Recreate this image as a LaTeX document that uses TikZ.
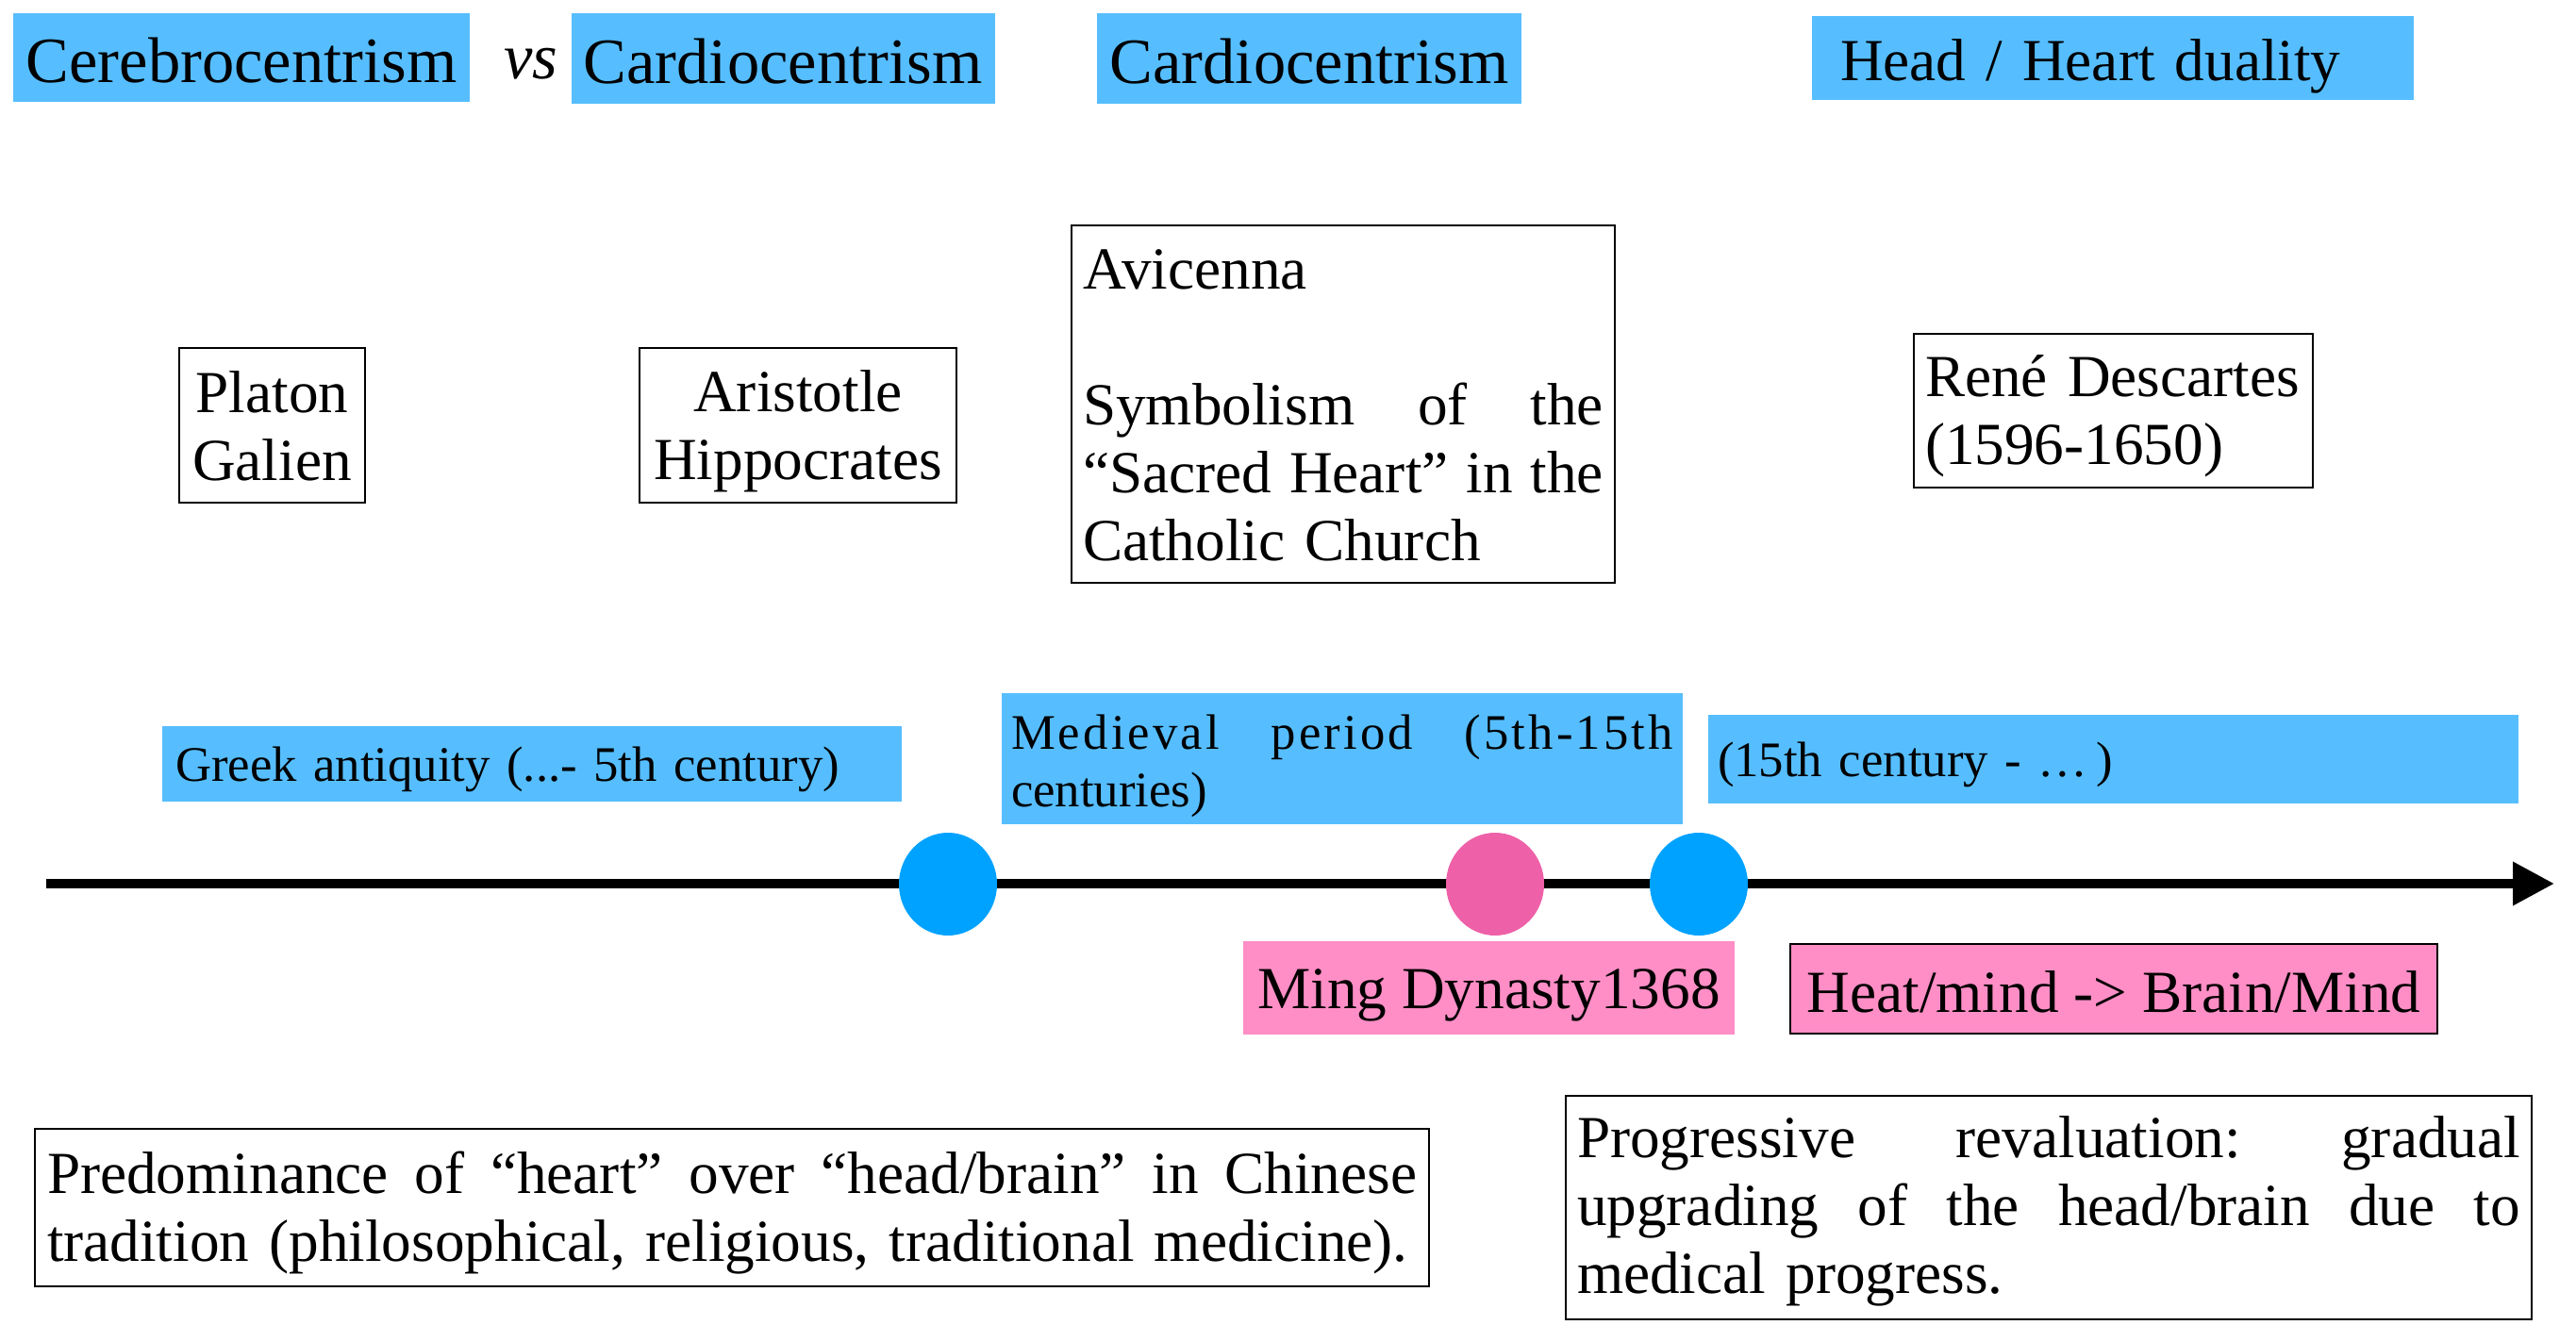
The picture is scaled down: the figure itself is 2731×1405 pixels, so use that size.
\documentclass[tikz,border=0pt]{standalone}
\usepackage{fontspec}
\setmainfont{Liberation Serif}
\usetikzlibrary{arrows.meta,shapes.geometric}
\definecolor{boxblue}{HTML}{56BEFF}
\definecolor{dotblue}{HTML}{00A2FF}
\definecolor{dotpink}{HTML}{EE61A8}
\definecolor{boxpink}{HTML}{FF8EC6}
\newcommand\jline[2]{\leavevmode\hbox to #1{\frenchspacing\spaceskip=0.25em plus 1fil\relax\xspaceskip=\spaceskip #2}}
\begin{document}
\begin{tikzpicture}[x=0.1mm,y=-0.1mm,
  bluebox/.style={fill=boxblue, inner sep=0pt},
  pinkbox/.style={fill=boxpink, inner sep=0pt},
  framebox/.style={draw, line width=0.8pt, inner sep=0pt},
  big/.style={inner sep=0pt, font=\fontsize{19.5}{22}\selectfont},
  txt/.style={inner sep=0pt, font=\fontsize{18}{20.5}\selectfont},
  small/.style={inner sep=0pt, font=\fontsize{15}{17.3}\selectfont},
  dot/.style={ellipse, inner sep=0pt, minimum width=10.4mm, minimum height=10.9mm}
]
\useasboundingbox (0,0) rectangle (2731,1405);

% headings
\node[bluebox, minimum width=48.4mm, minimum height=9.4mm] (cerebro) at (256,61) {};
\node[big, yshift=-0.35mm] (cerebrotext) at (cerebro) {Cerebrocentrism};
\node[big, font=\fontsize{19.5}{22}\selectfont\itshape] (vs) at (563,68) {vs};
\node[bluebox, minimum width=44.9mm, minimum height=9.6mm] (cardioA) at (830,62) {};
\node[big, yshift=-0.35mm] (cardioAtext) at (cardioA) {Cardiocentrism};
\node[bluebox, minimum width=45mm, minimum height=9.6mm] (cardioB) at (1388,62) {};
\node[big, yshift=-0.35mm] (cardioBtext) at (cardioB) {Cardiocentrism};
\node[bluebox, minimum width=63.8mm, minimum height=8.9mm] (duality) at (2240,61.5) {};
\node[txt, text width=57.8mm, align=left, yshift=-0.85mm] (dualitytext) at (duality) {Head / Heart duality};

% persons
\node[framebox, minimum width=19.7mm, minimum height=16.4mm] (platon) at (288.5,451) {};
\node[txt, align=center, yshift=-0.1mm] (platontext) at (platon) {Platon\\Galien};
\node[framebox, minimum width=33.6mm, minimum height=16.4mm] (aristotle) at (846,451) {};
\node[txt, align=center, yshift=-0.6mm] (aristotletext) at (aristotle) {Aristotle\\Hippocrates};
\node[framebox, minimum width=57.6mm, minimum height=37.9mm] (avicenna) at (1424,428.5) {};
\node[txt, text width=55.2mm, align=left, yshift=-0.1mm] (avicennatext) at (avicenna)
  {Avicenna\\[20.5pt]\jline{55.2mm}{Symbolism of the}\\\jline{55.2mm}{“Sacred Heart” in the}\\Catholic Church};
\node[framebox, minimum width=42.3mm, minimum height=16.3mm] (descartes) at (2240.5,435.5) {};
\node[txt, text width=39.9mm, align=left, yshift=-0.6mm] (descartestext) at (descartes) {René Descartes\\(1596-1650)};

% periods
\node[bluebox, minimum width=78.4mm, minimum height=8mm] (greek) at (564,810) {};
\node[small, text width=75.6mm, align=left, yshift=-0.55mm] (greektext) at (greek) {Greek antiquity (...- 5th century)};
\node[bluebox, minimum width=72.2mm, minimum height=13.9mm] (medieval) at (1423,804.5) {};
\node[small, text width=70.2mm, align=left, yshift=-0.8mm] (medievaltext) at (medieval)
  {\jline{70.2mm}{\addfontfeature{LetterSpace=6}Medieval period (5th-15th}\\centuries)};
\node[bluebox, minimum width=85.9mm, minimum height=9.4mm] (modern) at (2240.5,805) {};
\node[small, text width=83.9mm, align=left, yshift=-0.6mm] (moderntext) at (modern) {(15th century - …\,)};

% timeline
\coordinate (tstart) at (49,937);
\coordinate (tend) at (2708,937);
\draw[line width=1mm, -{Triangle[length=4.4mm,width=4.4mm]}] (tstart) -- (tend);
\node[dot, fill=dotblue] (dotA) at (1005,937.5) {};
\node[dot, fill=dotpink] (dotB) at (1585,937.5) {};
\node[dot, fill=dotblue] (dotC) at (1801,937.5) {};

% events
\node[pinkbox, minimum width=52.1mm, minimum height=9.9mm] (ming) at (1578.5,1047.5) {};
\node[txt, yshift=-0.8mm] (mingtext) at (ming) {Ming Dynasty1368};
\node[pinkbox, draw, line width=0.8pt, minimum width=68.6mm, minimum height=9.5mm] (heat) at (2241,1048.5) {};
\node[txt, yshift=-0.3mm] (heattext) at (heat) {Heat/mind -> Brain/Mind};

% notes
\node[framebox, minimum width=147.8mm, minimum height=16.7mm] (chinese) at (776,1280.5) {};
\node[txt, text width=145.2mm, align=left, yshift=-0.6mm] (chinesetext) at (chinese)
  {\jline{145.2mm}{Predominance of “heart” over “head/brain” in Chinese}\\tradition (philosophical, religious, traditional medicine).};
\node[framebox, minimum width=102.4mm, minimum height=23.7mm] (progress) at (2172,1280.5) {};
\node[txt, text width=100mm, align=left, yshift=-0.4mm] (progresstext) at (progress)
  {\jline{100mm}{Progressive revaluation: gradual}\\\jline{100mm}{upgrading of the head/brain due to}\\medical progress.};
\end{tikzpicture}
\end{document}
